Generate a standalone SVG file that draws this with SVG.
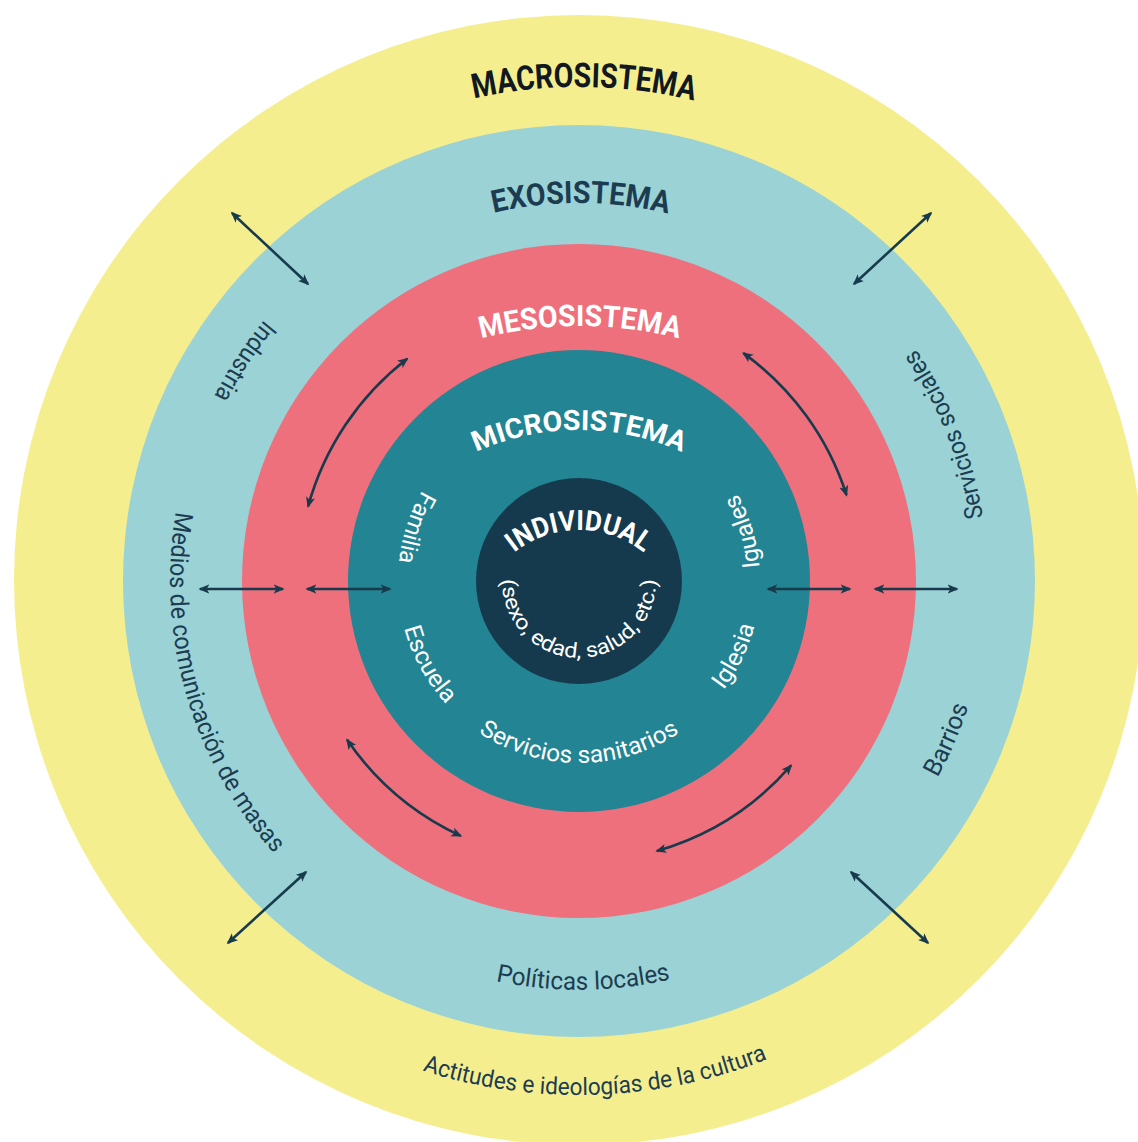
<svg xmlns="http://www.w3.org/2000/svg" xmlns:xlink="http://www.w3.org/1999/xlink" width="1138" height="1142" viewBox="0 0 1138 1142">
<style>
.lbl{font-family:Roboto,"Liberation Sans",sans-serif;}
.title{font-weight:700;}
.w{fill:#ffffff;}
.n{fill:#1c3c51;}
.k{fill:#111820;}
.con{fill:none;stroke:#173a4d;stroke-width:2.6;marker-start:url(#ah);marker-end:url(#ah);}
</style>
<defs>
<marker id="ah" viewBox="0 0 10 10" refX="8.5" refY="5" markerWidth="11" markerHeight="11" markerUnits="userSpaceOnUse" orient="auto-start-reverse">
<path d="M0,0.8 L10,5 L0,9.2 L2.5,5 Z" fill="#173a4d"/>
</marker>
<path id="pMacro" d="M265.2,199.5 A494,494 0 0,1 900.5,205.9"/>
<path id="pExo" d="M337.5,290.2 A378,378 0 0,1 823.5,292.7"/>
<path id="pMeso" d="M411,363.5 A400,400 0 0,1 749,363.5"/>
<path id="pMicro" d="M435.6,475.2 A250,250 0 0,1 722.4,475.2"/>
<path id="pInd" d="M481.3,598.4 A104,104 0 0,1 676.7,598.4"/>
<path id="pSexo" d="M506.6,554.7 A77,77 0 1,0 651.4,554.7"/>
<path id="pFam" d="M483.1,427.5 A181,181 0 0,0 411.2,648.8"/>
<path id="pEsc" d="M401.3,546.5 A181,181 0 0,0 514.1,750"/>
<path id="pSan" d="M421.4,672 A182,182 0 0,0 736.6,672"/>
<path id="pIgu" d="M745.1,652.9 A181,181 0 0,0 678.6,429.9"/>
<path id="pIgl" d="M653.5,746 A181,181 0 0,0 754.4,536.3"/>
<path id="pInds" d="M461.5,189.3 A409,409 0 0,0 172.8,628.7"/>
<path id="pMed" d="M239.9,352.3 A409,409 0 0,0 412.7,954.6"/>
<path id="pSoc" d="M967.4,709.1 A409,409 0 0,0 772.6,220.7"/>
<path id="pBar" d="M762.8,946.4 A409,409 0 0,0 970.7,463.5"/>
<path id="pPol" d="M319.4,897 A410,410 0 0,0 845.2,891.6"/>
<path id="pAct" d="M261.9,985.5 A514,514 0 0,0 922.2,963.6"/>
</defs>

<g id="macrosistema">
<circle cx="579" cy="580" r="565" fill="#f5ee8f"/>
<text class="lbl title k" font-size="34"><textPath xlink:href="#pMacro" href="#pMacro" startOffset="50%" text-anchor="middle" textLength="222" lengthAdjust="spacingAndGlyphs">MACROSISTEMA</textPath></text>
<text class="lbl n" font-size="24"><textPath xlink:href="#pAct" href="#pAct" startOffset="50%" text-anchor="middle" textLength="352" lengthAdjust="spacingAndGlyphs">Actitudes e ideologías de la cultura</textPath></text>
</g>

<g id="exosistema">
<circle cx="579" cy="581" r="456" fill="#9ad2d5"/>
<text class="lbl title n" font-size="31"><textPath xlink:href="#pExo" href="#pExo" startOffset="50%" text-anchor="middle" textLength="176" lengthAdjust="spacingAndGlyphs">EXOSISTEMA</textPath></text>
<text class="lbl n" font-size="25"><textPath xlink:href="#pInds" href="#pInds" startOffset="50%" text-anchor="middle" textLength="92" lengthAdjust="spacingAndGlyphs">Industria</textPath></text>
<text class="lbl n" font-size="25"><textPath xlink:href="#pMed" href="#pMed" startOffset="50%" text-anchor="middle" textLength="368" lengthAdjust="spacingAndGlyphs">Medios de comunicación de masas</textPath></text>
<text class="lbl n" font-size="25"><textPath xlink:href="#pSoc" href="#pSoc" startOffset="50%" text-anchor="middle" textLength="183" lengthAdjust="spacingAndGlyphs">Servicios sociales</textPath></text>
<text class="lbl n" font-size="25"><textPath xlink:href="#pBar" href="#pBar" startOffset="50%" text-anchor="middle" textLength="78" lengthAdjust="spacingAndGlyphs">Barrios</textPath></text>
<text class="lbl n" font-size="25"><textPath xlink:href="#pPol" href="#pPol" startOffset="50%" text-anchor="middle" textLength="176" lengthAdjust="spacingAndGlyphs">Políticas locales</textPath></text>
</g>

<g id="mesosistema">
<circle cx="579" cy="581" r="337" fill="#ee707d"/>
<text class="lbl title w" font-size="30"><textPath xlink:href="#pMeso" href="#pMeso" startOffset="50%" text-anchor="middle" textLength="200" lengthAdjust="spacingAndGlyphs">MESOSISTEMA</textPath></text>
</g>

<g id="microsistema">
<circle cx="579" cy="581" r="231" fill="#238493"/>
<text class="lbl title w" font-size="28"><textPath xlink:href="#pMicro" href="#pMicro" startOffset="50%" text-anchor="middle" textLength="212" lengthAdjust="spacingAndGlyphs">MICROSISTEMA</textPath></text>
<text class="lbl w" font-size="24"><textPath xlink:href="#pFam" href="#pFam" startOffset="50%" text-anchor="middle" textLength="76" lengthAdjust="spacingAndGlyphs">Familia</textPath></text>
<text class="lbl w" font-size="24"><textPath xlink:href="#pEsc" href="#pEsc" startOffset="50%" text-anchor="middle" textLength="88" lengthAdjust="spacingAndGlyphs">Escuela</textPath></text>
<text class="lbl w" font-size="24"><textPath xlink:href="#pSan" href="#pSan" startOffset="50%" text-anchor="middle" textLength="213" lengthAdjust="spacingAndGlyphs">Servicios sanitarios</textPath></text>
<text class="lbl w" font-size="24"><textPath xlink:href="#pIgu" href="#pIgu" startOffset="50%" text-anchor="middle" textLength="78" lengthAdjust="spacingAndGlyphs">Iguales</textPath></text>
<text class="lbl w" font-size="24"><textPath xlink:href="#pIgl" href="#pIgl" startOffset="50%" text-anchor="middle" textLength="72" lengthAdjust="spacingAndGlyphs">Iglesia</textPath></text>
</g>

<g id="individual">
<circle cx="579" cy="581" r="103" fill="#153a4e"/>
<text class="lbl title w" font-size="28"><textPath xlink:href="#pInd" href="#pInd" startOffset="50%" text-anchor="middle" textLength="140" lengthAdjust="spacingAndGlyphs">INDIVIDUAL</textPath></text>
<text class="lbl w" font-size="21"><textPath xlink:href="#pSexo" href="#pSexo" startOffset="50%" text-anchor="middle" textLength="245" lengthAdjust="spacingAndGlyphs">(sexo, edad, salud, etc.)</textPath></text>
</g>

<g id="connectors">
<path class="con" d="M232,213 L308,284"/>
<path class="con" d="M931,213 L854,284"/>
<path class="con" d="M306,872 L228,943"/>
<path class="con" d="M851,872 L928,943"/>
<path class="con" d="M200,589 L283,589"/>
<path class="con" d="M307,589 L390,589"/>
<path class="con" d="M768,589 L850,589"/>
<path class="con" d="M875,589 L957,589"/>
<path class="con" d="M407.2,358.7 A281,281 0 0,0 308.1,506.4"/>
<path class="con" d="M743.4,353.1 A281,281 0 0,1 846.5,495.1"/>
<path class="con" d="M347.1,739.8 A281,281 0 0,0 460.7,835.9"/>
<path class="con" d="M791.1,765.4 A281,281 0 0,1 656.9,851"/>
</g>
</svg>
